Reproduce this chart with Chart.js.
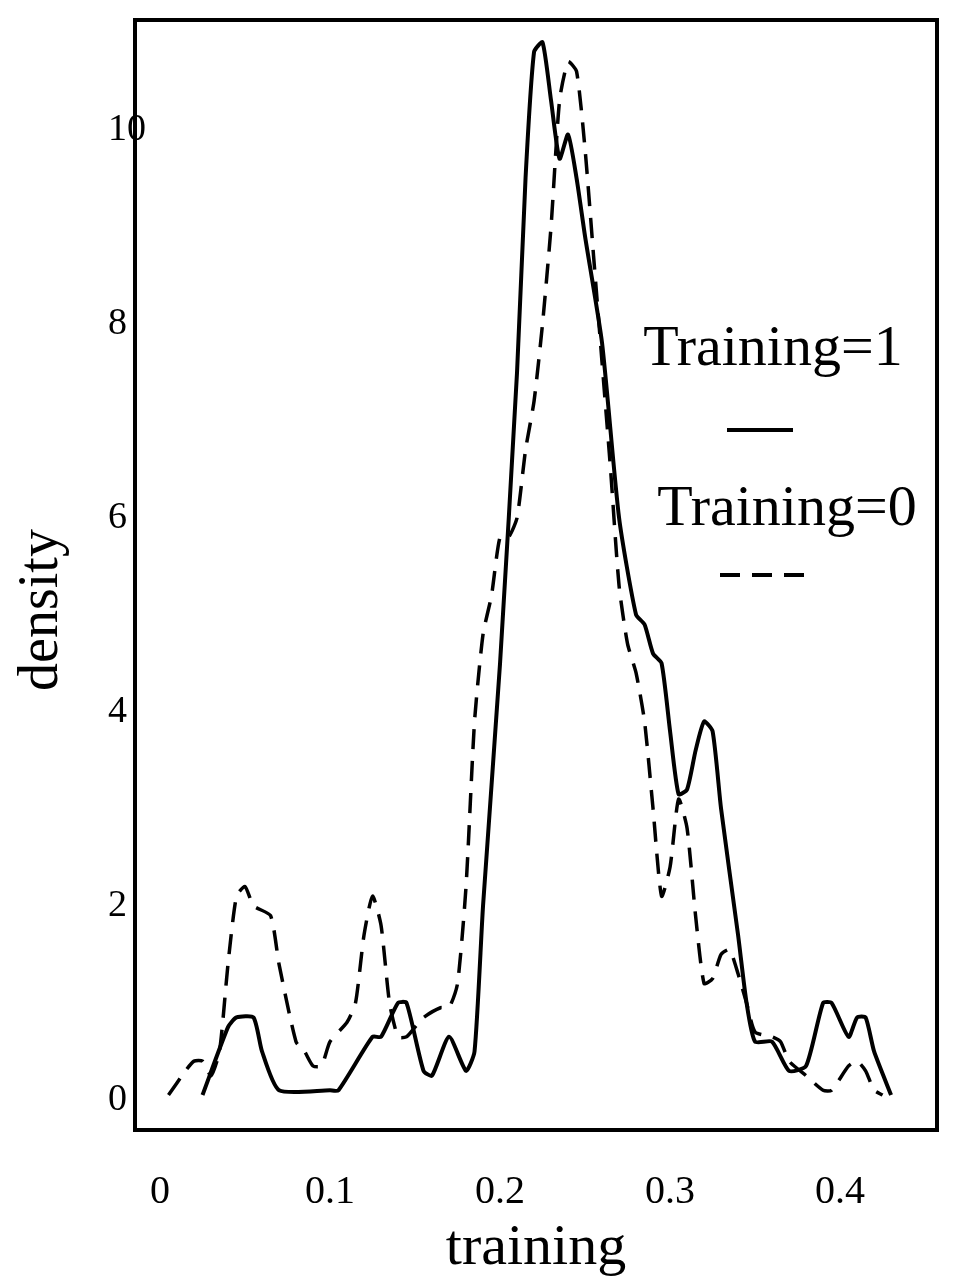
<!DOCTYPE html>
<html><head><meta charset="utf-8">
<script src="https://cdn.jsdelivr.net/npm/chart.js@4"></script>
<style>html,body{margin:0;padding:0;background:#fff}#w{width:955px;height:1288px}</style>
</head><body><div id="w"><canvas id="c"></canvas></div>
<script>
const xTicks=[0,0.1,0.2,0.3,0.4];
const yTicks=[0,2,4,6,8,10];
const solidX=[0.025,0.04,0.045,0.055,0.06,0.07,0.1,0.105,0.125,0.13,0.14,0.145,0.155,0.16,0.17,0.18,0.185,0.19,0.2,0.21,0.215,0.22,0.225,0.23,0.235,0.24,0.245,0.25,0.26,0.27,0.28,0.285,0.29,0.295,0.3,0.305,0.31,0.315,0.32,0.325,0.33,0.34,0.345,0.35,0.36,0.37,0.38,0.39,0.395,0.405,0.41,0.415,0.42,0.43];
const solidY=[0.05,0.75,0.85,0.85,0.5,0.1,0.1,0.1,0.65,0.65,1.0,1.0,0.3,0.25,0.65,0.3,0.5,2.0,4.5,7.5,9.5,10.8,10.9,10.3,9.7,9.95,9.5,8.9,7.8,6.0,5.0,4.9,4.6,4.5,3.8,3.15,3.2,3.6,3.9,3.8,3.0,1.7,1.0,0.6,0.6,0.3,0.35,1.0,1.0,0.65,0.85,0.85,0.5,0.05];
const dashX=[0.005,0.015,0.02,0.025,0.03,0.035,0.04,0.045,0.05,0.055,0.065,0.07,0.08,0.085,0.09,0.095,0.1,0.11,0.115,0.12,0.125,0.13,0.135,0.14,0.145,0.15,0.155,0.165,0.17,0.175,0.18,0.185,0.19,0.195,0.2,0.205,0.21,0.215,0.22,0.225,0.23,0.235,0.24,0.245,0.25,0.255,0.26,0.265,0.27,0.275,0.28,0.285,0.29,0.295,0.3,0.305,0.31,0.315,0.32,0.325,0.33,0.335,0.34,0.345,0.35,0.36,0.365,0.37,0.38,0.39,0.395,0.405,0.41,0.415,0.42,0.425];
const dashY=[0.05,0.3,0.4,0.4,0.25,0.5,1.4,2.1,2.2,2.0,1.9,1.4,0.6,0.5,0.35,0.35,0.6,0.8,1.0,1.7,2.1,1.8,1.0,0.65,0.65,0.75,0.85,0.95,0.95,1.2,2.2,3.9,4.8,5.2,5.8,5.8,6.0,6.7,7.2,8.0,9.0,10.3,10.7,10.6,9.8,8.7,7.6,6.5,5.3,4.7,4.4,3.9,3.0,2.1,2.4,3.1,2.8,1.9,1.2,1.25,1.5,1.55,1.3,1.0,0.7,0.65,0.6,0.4,0.25,0.1,0.1,0.35,0.4,0.3,0.1,0.05];
const serif='"Liberation Serif","DejaVu Serif",serif';
const deco={id:'deco',afterDraw(ch){const c=ch.ctx,a=ch.chartArea,y=ch.scales.y;c.save();
c.strokeStyle='#000';c.lineWidth=4;c.strokeRect(a.left,a.top,a.right-a.left,a.bottom-a.top);
c.fillStyle='#000';c.font='38px '+serif;c.textAlign='left';c.textBaseline='middle';
yTicks.forEach(v=>c.fillText(String(v),108,y.getPixelForValue(v)));
c.save();c.translate(42,610);c.rotate(-Math.PI/2);c.textAlign='center';c.font='56px '+serif;c.fillText('density',0,0);c.restore();
c.textAlign='center';c.font='58px '+serif;c.fillText('Training=1',773,350);c.fillText('Training=0',787,510);
c.lineWidth=4;c.beginPath();c.moveTo(727,430);c.lineTo(793,430);c.stroke();
c.setLineDash([20,12]);c.beginPath();c.moveTo(720,575);c.lineTo(805,575);c.stroke();
c.restore();}};
new Chart(document.getElementById('c'),{type:'line',
data:{datasets:[
{data:solidX.map((x,i)=>({x,y:solidY[i]})),borderColor:'#000',borderWidth:4,pointRadius:0,tension:0.2,fill:false},
{data:dashX.map((x,i)=>({x,y:dashY[i]})),borderColor:'#000',borderWidth:3.5,borderDash:[20,12],pointRadius:0,tension:0.2,fill:false}]},
options:{responsive:true,maintainAspectRatio:false,animation:false,
layout:{padding:{left:135,top:20,right:18,bottom:0}},
plugins:{legend:{display:false},tooltip:{enabled:false}},
scales:{
x:{type:'linear',min:-0.0147,max:0.457,afterBuildTicks(s){s.ticks=xTicks.map(v=>({value:v}));},
afterFit(s){s.height=158;},grid:{display:false,drawOnChartArea:false,drawTicks:true,tickLength:14,tickWidth:3,color:'#000'},
border:{display:false},
ticks:{color:'#000',font:{family:serif,size:40},maxRotation:0,padding:24,callback:v=>String(v)},
title:{display:true,text:'training',color:'#000',font:{family:serif,size:58},padding:{top:-8}}},
y:{type:'linear',display:false,min:-0.31,max:11.13}}},
plugins:[deco]});
</script></body></html>
